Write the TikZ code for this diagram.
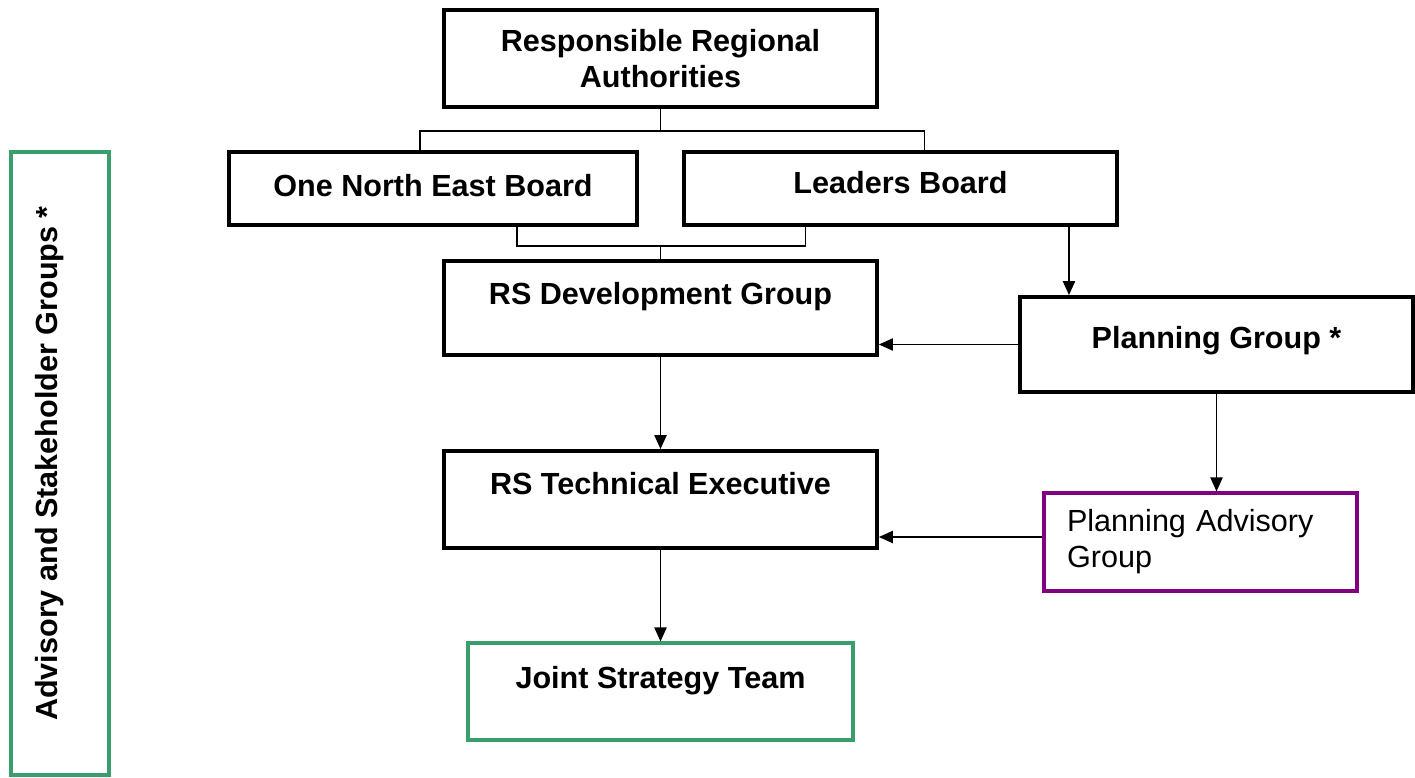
\documentclass[tikz,border=0pt]{standalone}
\usepackage{fontspec}
\setmainfont{Liberation Sans}
\usepackage{xcolor}
\usepackage{tikz}
\usetikzlibrary{shapes}
\usetikzlibrary{arrows.meta}
\tikzset{
  font={\fontsize{17.4pt}{20.5pt}\selectfont}}
\definecolor{jstgreen}{RGB}{58,158,108}
\definecolor{pagpurple}{RGB}{128,0,128}

\begin{document}
\begin{tikzpicture}[x=0.02cm, y=-0.02cm]

        \tikzset{edge/.style = {-{Triangle[length=8pt,width=7pt]}, line width=0.8pt}}
        \tikzset{link/.style = {line width=0.8pt}}
        \tikzset{box/.style = {draw=black, line width=2.2pt, rectangle, inner sep=0pt,
            font={\fontsize{17.4pt}{20.5pt}\selectfont\bfseries}}}

        \useasboundingbox (0,0) rectangle (1415,777);

        % vertices
        \node[box, minimum width=8.66cm, minimum height=1.94cm, align=center] (rra)
            at (660.5,58.5) {Responsible Regional\\Authorities};
        \node[box, minimum width=8.16cm, text height=0.88cm, text depth=0.58cm] (onb)
            at (433,188.5) {One North East Board};
        \node[box, minimum width=8.66cm, text height=0.82cm, text depth=0.64cm] (ldr)
            at (900.5,188.5) {Leaders Board};
        \node[box, minimum width=8.66cm, text height=0.86cm, text depth=1.02cm] (dev)
            at (660.5,308) {RS Development Group};
        \node[box, minimum width=7.86cm, text height=1.02cm, text depth=0.88cm] (plan)
            at (1216.5,344.5) {Planning Group *};
        \node[box, minimum width=8.66cm, text height=0.86cm, text depth=1.08cm] (tech)
            at (660.5,499.5) {RS Technical Executive};
        \node[box, draw=pagpurple, line width=1.8pt, font={\fontsize{17.4pt}{20.5pt}\selectfont},
            minimum width=6.26cm, minimum height=1.96cm, text width=5.34cm, align=left] (pag)
            at (1200.5,542) {Planning Advisory\\Group};
        \node[box, draw=jstgreen, line width=1.8pt, minimum width=7.7cm, text height=0.9cm, text depth=1.04cm] (jst)
            at (660.5,691.5) {Joint Strategy Team};
        \node[box, draw=jstgreen, line width=1.8pt, rotate=90, minimum width=12.46cm,
            text height=0.92cm, text depth=1.04cm] (asg)
            at (60,463.5) {Advisory and Stakeholder Groups *};

        %edges
        \draw[link] (rra.south) -- ++(0,22) coordinate (j1);
        \draw[link] ([xshift=-0.26cm]onb.north) |- (j1) -| ([xshift=0.48cm]ldr.north);
        \draw[link] (dev.north) -- ++(0,-13) coordinate (j2);
        \draw[link] ([xshift=1.68cm]onb.south) |- (j2) -| ([xshift=-1.9cm]ldr.south);
        \draw[edge] ([xshift=3.37cm]ldr.south) -- ([xshift=3.37cm]ldr.south |- plan.north);
        \draw[edge] (plan.west) -- (plan.west -| dev.east);
        \draw[edge] (dev) -- (tech);
        \draw[edge] (plan.south) -- (plan.south |- pag.north);
        \draw[edge] ([yshift=0.1cm]pag.west) -- ([yshift=0.1cm]pag.west -| tech.east);
        \draw[edge] (tech) -- (jst);

\end{tikzpicture}
\end{document}
